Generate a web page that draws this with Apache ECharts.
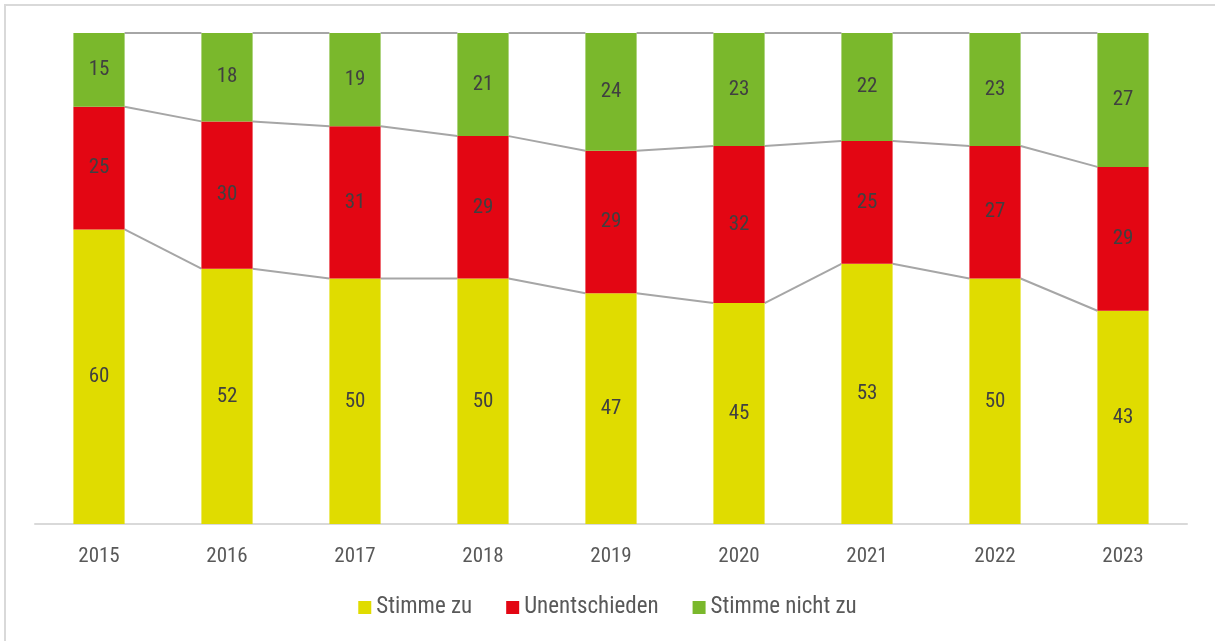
<!DOCTYPE html>
<html>
<head>
<meta charset="utf-8">
<script src="https://cdn.jsdelivr.net/npm/echarts@6/dist/echarts.min.js"></script>
<style>
  html, body { margin: 0; padding: 0; overflow: hidden; background: #fff; }
  #frame { position: absolute; left: 4px; top: 4px; width: 1400px; height: 800px; border: 2px solid #d9d9d9; }
  #main { position: absolute; left: 0; top: 0; width: 1215px; height: 641px; }
</style>
</head>
<body>
<div id="frame"></div>
<div id="main"></div>
<script>
const years = ['2015', '2016', '2017', '2018', '2019', '2020', '2021', '2022', '2023']
const zustimmung = [60, 52, 50, 50, 47, 45, 53, 50, 43]
const unentschieden = [25, 30, 31, 29, 29, 32, 25, 27, 29]
const ablehnung = [15, 18, 19, 21, 24, 23, 22, 23, 27]

const font = "'Liberation Sans Narrow', 'Roboto Condensed', 'DejaVu Sans Condensed', sans-serif"
const colors = ['#e0dc00', '#e30613', '#7ab82c']

// 100%-Stapel: Anteile je Jahr
const sums = years.map((y, i) => zustimmung[i] + unentschieden[i] + ablehnung[i])
const pct = arr => arr.map((v, i) => v / sums[i] * 100)
const p1 = pct(zustimmung)
const p2 = pct(unentschieden)
const p3 = pct(ablehnung)
const top1 = p1
const top2 = p1.map((v, i) => v + p2[i])
const top3 = top2.map((v, i) => v + p3[i])

// Verbindungslinien zwischen den Balken (wie Excel-Reihenlinien)
const segs = []
for (const tops of [top1, top2, top3]) {
  for (let i = 0; i < years.length - 1; i++) {
    segs.push([i, tops[i], tops[i + 1]])
  }
}

function barSeries (name, data, raw, color) {
  return {
    name: name,
    type: 'bar',
    stack: 'total',
    barWidth: '40%',
    itemStyle: { color: color },
    label: {
      show: true,
      position: 'inside',
      color: '#404040',
      fontFamily: font,
      fontSize: 21,
      formatter: p => raw[p.dataIndex]
    },
    data: data
  }
}

const myChart = echarts.init(document.getElementById('main'))
myChart.setOption({
  animation: false,
  color: colors,
  grid: { left: 35, right: 28, top: 33, bottom: 117 },
  legend: {
    bottom: 17,
    left: 'center',
    itemWidth: 13,
    itemHeight: 13,
    itemGap: 34,
    icon: 'rect',
    textStyle: { color: '#595959', fontFamily: font, fontSize: 23 },
    data: ['Stimme zu', 'Unentschieden', 'Stimme nicht zu']
  },
  xAxis: {
    type: 'category',
    data: years,
    axisTick: { show: false },
    axisLine: { lineStyle: { color: '#d9d9d9', width: 2 } },
    axisLabel: { color: '#595959', fontFamily: font, fontSize: 21, margin: 22 }
  },
  yAxis: {
    type: 'value',
    min: 0,
    max: 100,
    show: false
  },
  series: [
    barSeries('Stimme zu', p1, zustimmung, colors[0]),
    barSeries('Unentschieden', p2, unentschieden, colors[1]),
    barSeries('Stimme nicht zu', p3, ablehnung, colors[2]),
    {
      type: 'custom',
      silent: true,
      z: 1,
      data: segs,
      renderItem: (params, api) => {
        const i = api.value(0)
        const half = api.size([1, 0])[0] * 0.2
        const a = api.coord([i, api.value(1)])
        const b = api.coord([i + 1, api.value(2)])
        return {
          type: 'line',
          shape: { x1: a[0] + half, y1: a[1], x2: b[0] - half, y2: b[1] },
          style: { stroke: '#a6a6a6', lineWidth: 2 }
        }
      }
    }
  ]
})
</script>
</body>
</html>
